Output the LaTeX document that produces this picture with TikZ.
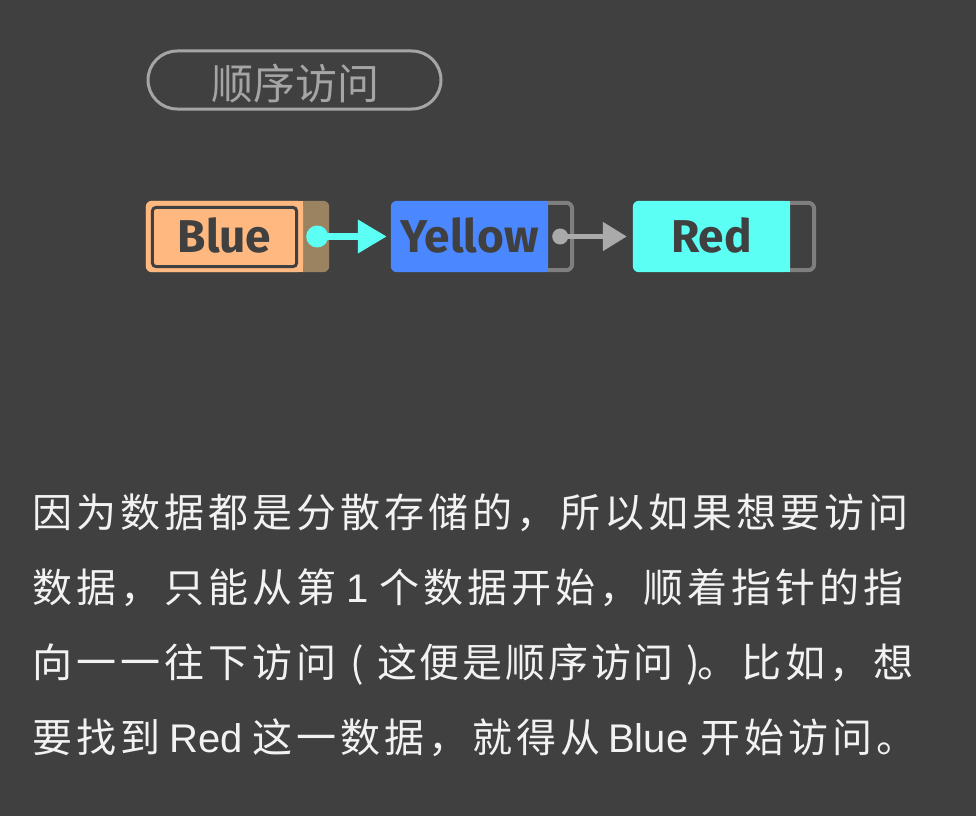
\documentclass[tikz,border=0pt]{standalone}
\usepackage{fontspec}
\setmainfont{Fira Sans}
\newfontfamily\cjk{Noto Sans CJK SC}
\newfontfamily\cjksp[LetterSpace=10]{Noto Sans CJK SC}
\newfontfamily\cjkspb[LetterSpace=7]{Noto Sans CJK SC}
\newfontfamily\latinf{Liberation Sans}
\usetikzlibrary{arrows.meta}
\definecolor{bgc}{HTML}{404040}
\definecolor{peach}{HTML}{FFB87F}
\definecolor{tanc}{HTML}{9B8260}
\definecolor{bluec}{HTML}{4B87FF}
\definecolor{cyanc}{HTML}{5BFFF4}
\definecolor{ptrg}{HTML}{7F7F7F}
\definecolor{arrg}{HTML}{AAAAAA}
\definecolor{titleg}{HTML}{A5A5A5}
\definecolor{bodyc}{HTML}{F2F2F2}
\pgfdeclarelayer{bg}
\pgfsetlayers{bg,main}
\begin{document}
\begin{tikzpicture}[x=1pt,y=-1pt,
  datanode/.style={minimum width=157pt, minimum height=71pt, inner sep=0pt,
    text height=33pt, text depth=2pt, font=\fontsize{46}{46}\selectfont\bfseries, text=bgc},
  ptrbox/.style={draw=ptrg, line width=4pt, rounded corners=6pt},
  bodyline/.style={anchor=base west, inner sep=0pt, text=bodyc, font=\cjksp\fontsize{40}{40}\selectfont},
  bodytight/.style={anchor=base west, inner sep=0pt, text=bodyc, font=\cjkspb\fontsize{40}{40}\selectfont},
  bodyplain/.style={anchor=base west, inner sep=0pt, text=bodyc, font=\cjk\fontsize{40}{40}\selectfont},
  bodylat/.style={anchor=base west, inner sep=0pt, text=bodyc, font=\latinf\fontsize{40}{40}\selectfont},
]
\begin{pgfonlayer}{bg}
\fill[bgc] (0,0) rectangle (976,816);
\end{pgfonlayer}
\useasboundingbox (0,0) rectangle (976,816);

% title
\node[draw=titleg, line width=3pt, rounded corners=29pt, minimum width=293pt,
      minimum height=58pt, inner sep=0pt] (title) at (294.5,80) {};
\node[anchor=base, text=titleg, inner sep=0pt,
      font=\cjk\fontsize{42}{42}\selectfont] (titletxt) at (295,99) {顺序访问};

% nodes
\node[datanode] (blue) at (224.5,236.5) {Blue};
\node[datanode] (yellow) at (469.5,236.5) {Yellow};
\node[datanode] (red) at (711.5,236.5) {Red};

\begin{pgfonlayer}{bg}
  % Blue
  \fill[tanc, rounded corners=6pt] (blue.north west) rectangle ([xshift=26pt]blue.south east);
  \fill[peach, rounded corners=6pt] (blue.north west) rectangle (blue.south east);
  \fill[peach] ([xshift=-12pt]blue.north east) rectangle (blue.south east);
  % Yellow
  \draw[ptrbox] ([shift={(-10,2)}]yellow.north east) rectangle ([shift={(24,-2)}]yellow.south east);
  \fill[bluec, rounded corners=6pt] (yellow.north west) rectangle (yellow.south east);
  \fill[bluec] ([xshift=-12pt]yellow.north east) rectangle (yellow.south east);
  % Red
  \draw[ptrbox] ([shift={(-10,2)}]red.north east) rectangle ([shift={(24,-2)}]red.south east);
  \fill[cyanc, rounded corners=6pt] (red.north west) rectangle (red.south east);
  \fill[cyanc] ([xshift=-12pt]red.north east) rectangle (red.south east);
\end{pgfonlayer}

% inner highlight of Blue
\draw[bgc, line width=3pt, rounded corners=4pt]
  ([shift={(6.5,6.5)}]blue.north west) rectangle ([shift={(-6.5,-5.5)}]blue.south east);

% pointers
\coordinate (bdot) at ([xshift=14pt]blue.east);
\coordinate (ydot) at ([xshift=12pt]yellow.east);
\fill[cyanc] (bdot) circle (11pt);
\draw[cyanc, line width=7pt, -{Triangle[length=29pt,width=32pt]}]
  (bdot) -- ([xshift=-4pt]yellow.west);
\fill[arrg] (ydot) circle (8pt);
\draw[arrg, line width=5pt, -{Triangle[length=24pt,width=28pt]}]
  (ydot) -- ([xshift=-6pt]red.west);

% body text
\node[bodyline] (l1) at (32,527) {因为数据都是分散存储的，所以如果想要访问};
\node[bodyline] (l2a) at (32,602) {数据，只能从第};
\node[bodylat]  (l2b) at (346,602) {1};
\node[bodyline] (l2c) at (379,602) {个数据开始，顺着指针的指};
\node[bodyline] (l3a) at (32,677) {向一一往下访问};
\node[bodyplain] (l3b) at (350,677) {(};
\node[bodytight] (l3c) at (377,677) {这便是顺序访问};
\node[bodyplain] (l3d) at (686,677) {)};
\node[bodyline] (l3e) at (697,677) {。比如，想};
\node[bodyline] (l4a) at (32,752) {要找到};
\node[bodylat]  (l4b) at (169,752) {Red};
\node[bodyline] (l4c) at (252,752) {这一数据，就得从};
\node[bodylat]  (l4d) at (608,752) {Blue};
\node[bodyline] (l4e) at (700,752) {开始访问。};
\end{tikzpicture}
\end{document}
